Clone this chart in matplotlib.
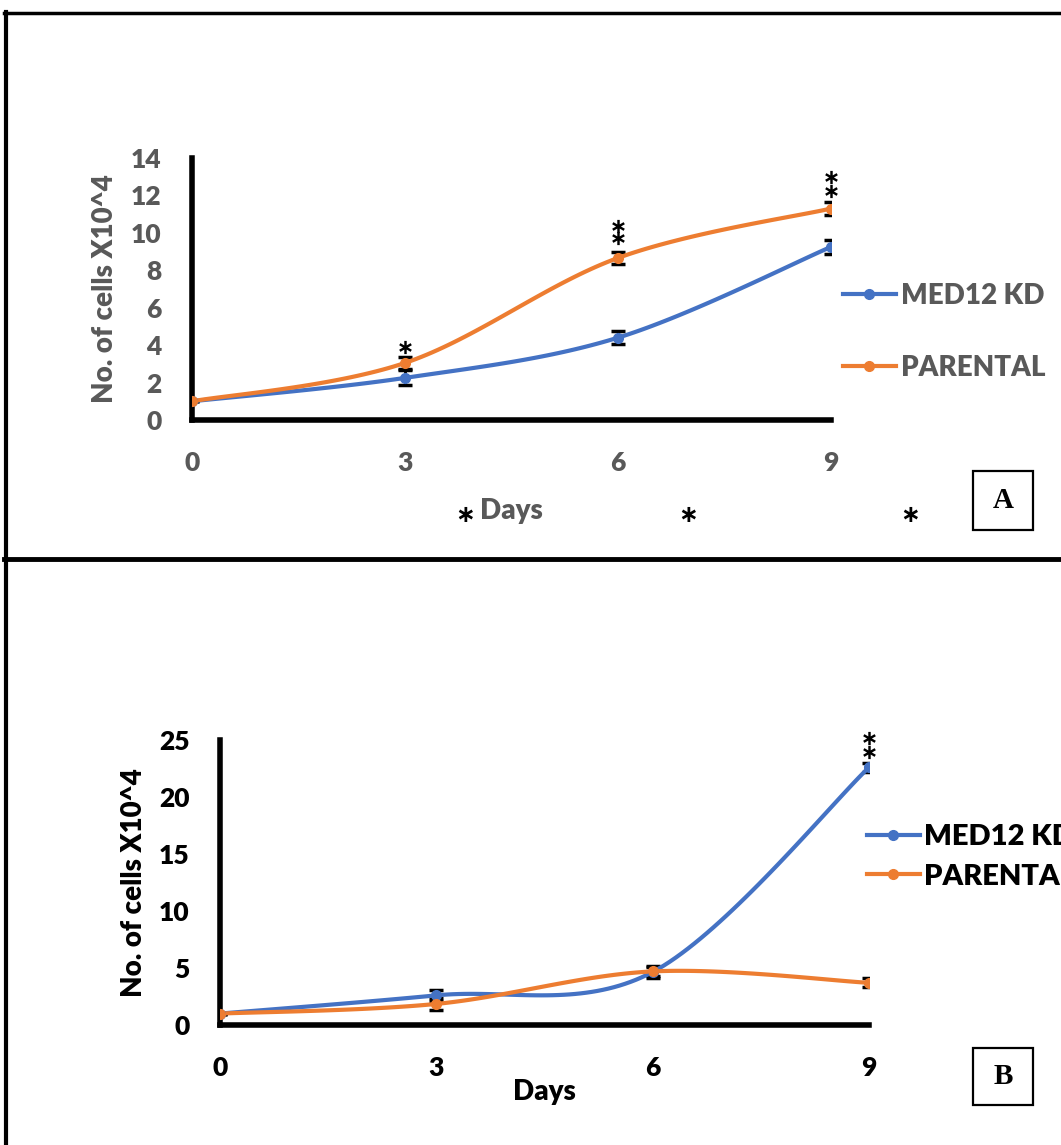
import numpy as np
import matplotlib
matplotlib.use("Agg")
import matplotlib.pyplot as plt
import matplotlib.transforms as mtransforms
from matplotlib.lines import Line2D
from matplotlib.patches import Rectangle

plt.rcParams['font.family'] = ['Lato', 'DejaVu Sans']
plt.rcParams['font.weight'] = 'bold'

days = [0, 3, 6, 9]
series = ['MED12 KD', 'PARENTAL']

# panel A
med12_a = [1.0, 2.25, 4.4, 9.25]
med12_a_err = [0.0, 0.4, 0.35, 0.37]
parental_a = [1.0, 3.05, 8.66, 11.3]
parental_a_err = [0.0, 0.3, 0.3, 0.35]

# panel B
med12_b = [1.0, 2.6, 4.65, 22.6]
med12_b_err = [0.0, 0.5, 0.5, 0.4]
parental_b = [1.0, 1.85, 4.7, 3.7]
parental_b_err = [0.0, 0.5, 0.4, 0.4]

yticks_a = [0, 2, 4, 6, 8, 10, 12, 14]
yticks_b = [0, 5, 10, 15, 20, 25]

BLUE = '#4472C4'
ORANGE = '#ED7D31'
GREY = '#595959'

W, H = 1061, 1145


def smooth(x, y, n=40):
    # excel style smoothed line (catmull-rom bezier)
    p = np.column_stack([x, y]).astype(float)
    xs, ys = [], []
    for i in range(len(p) - 1):
        p0 = p[max(i - 1, 0)]
        p1 = p[i]
        p2 = p[i + 1]
        p3 = p[min(i + 2, len(p) - 1)]
        c1 = p1 + (p2 - p0) / 6
        c2 = p2 - (p3 - p1) / 6
        t = np.linspace(0, 1, n)[:, None]
        b = ((1 - t) ** 3) * p1 + 3 * ((1 - t) ** 2) * t * c1 + 3 * (1 - t) * t ** 2 * c2 + t ** 3 * p2
        xs.extend(b[:, 0])
        ys.extend(b[:, 1])
    return xs, ys


def px_axes(left, top, right, bottom):
    return fig.add_axes([left / W, 1 - bottom / H, (right - left) / W, (bottom - top) / H])


def draw_panel(ax, y1, e1, y2, e2, ymax, yticks, color):
    for y, e, c, lab in [(y1, e1, BLUE, series[0]), (y2, e2, ORANGE, series[1])]:
        sx, sy = smooth(days, y)
        ax.plot(sx, sy, color=c, lw=3, solid_capstyle='round', zorder=3)
        ax.errorbar(days, y, yerr=e, fmt='none', ecolor='black', elinewidth=2,
                    capsize=5, capthick=2.5, zorder=2)
        ax.plot(days, y, 'o', color=c, ms=7, zorder=4)
        ax.plot([], [], '-o', color=c, lw=3, ms=7, label=lab)
    ax.set_xlim(0, 9)
    ax.set_ylim(0, ymax)
    ax.set_xticks(days)
    ax.set_xticklabels([str(d) for d in days], fontsize=19, fontweight='heavy', color=color)
    ax.set_yticks(yticks)
    ax.set_yticklabels([str(v) for v in yticks], fontsize=19, fontweight='heavy', color=color)
    for s in ['top', 'right']:
        ax.spines[s].set_visible(False)
    for s in ['left', 'bottom']:
        ax.spines[s].set_linewidth(4)
        ax.spines[s].set_color('black')
        ax.spines[s].set_clip_on(False)
    ax.tick_params(length=0, pad=22)
    ax.set_ylabel('No. of cells X10^4', fontsize=20, color=color, fontweight='heavy')
    ax.patch.set_alpha(0)


def stars(ax, x, y, offsets):
    # asterisks placed a number of pixels above a data point
    for d in offsets:
        tr = mtransforms.offset_copy(ax.transData, fig=fig, x=0, y=d, units='dots')
        ax.plot([x], [y], marker=r'$\ast$', ms=9.5, mew=0, color='black', ls='none',
                transform=tr, clip_on=False, zorder=5)


fig = plt.figure(figsize=(W / 100, H / 100), dpi=100)

# panel A
axA = px_axes(192, 158, 831, 420)
draw_panel(axA, med12_a, med12_a_err, parental_a, parental_a_err, 14, yticks_a, GREY)
axA.yaxis.set_label_coords(-74 / 639, 0.5)
axA.set_xlabel('Days', fontsize=20, color=GREY, fontweight='heavy')
axA.xaxis.set_label_coords(0.5, -78 / 262)
axA.legend(loc='center left', bbox_to_anchor=(843 / W, 1 - 332 / H), bbox_transform=fig.transFigure,
           frameon=False, labelcolor=GREY, handlelength=1.9, handletextpad=0.2,
           labelspacing=1.65, borderaxespad=0, borderpad=0, prop={'weight': 'heavy', 'size': 20})

stars(axA, 3, parental_a[1], [16])
stars(axA, 6, parental_a[2], [20, 32])
stars(axA, 9, parental_a[3], [18, 32])

for x in [465, 688, 910]:
    fig.text(x / W, 1 - 515 / H, '\u2217', ha='center', va='center', fontsize=17,
             fontweight='bold', family='DejaVu Sans')

# panel B
axB = px_axes(220, 740, 869, 1025)
draw_panel(axB, med12_b, med12_b_err, parental_b, parental_b_err, 25, yticks_b, 'black')
axB.yaxis.set_label_coords(-73 / 649, 0.5)
axB.set_xlabel('Days', fontsize=20, color='black', fontweight='heavy')
axB.xaxis.set_label_coords(0.5, -54 / 285)
axB.legend(loc='center left', bbox_to_anchor=(867 / W, 1 - 857 / H), bbox_transform=fig.transFigure,
           frameon=False, labelcolor='black', handlelength=1.8, handletextpad=0.15,
           labelspacing=0.45, borderaxespad=0, borderpad=0, prop={'weight': 'heavy', 'size': 21})
stars(axB, 9, med12_b[3], [15, 29])

# panel borders and letter boxes
fig.add_artist(Line2D([4 / W, 1], [1 - 13 / H, 1 - 13 / H], color='black', lw=2.5))
fig.add_artist(Line2D([6 / W, 6 / W], [0, 1 - 12 / H], color='black', lw=3))
fig.add_artist(Line2D([4 / W, 1], [1 - 559 / H, 1 - 559 / H], color='black', lw=3.5))

for letter, top, bottom in [('A', 471, 530), ('B', 1048, 1105)]:
    fig.add_artist(Rectangle((973 / W, 1 - bottom / H), 60 / W, (bottom - top) / H,
                             transform=fig.transFigure, fill=False, ec='black', lw=1.6))
    fig.text(1003 / W, 1 - (top + bottom) / 2 / H, letter, ha='center', va='center',
             fontsize=21, fontweight='bold', family='Liberation Serif')

fig.savefig('out.png', dpi=100)
